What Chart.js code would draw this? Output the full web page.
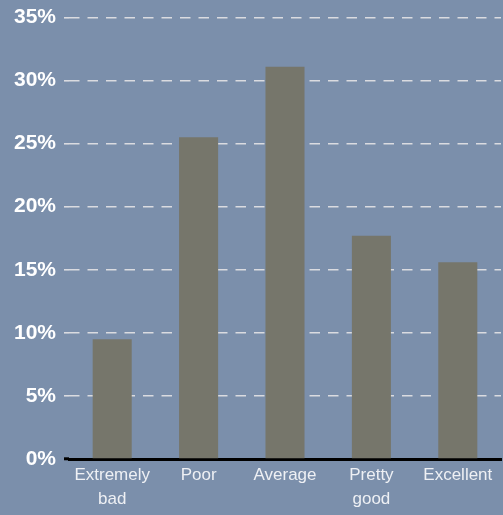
<!DOCTYPE html>
<html>
<head>
<meta charset="utf-8">
<script src="https://cdn.jsdelivr.net/npm/chart.js@4.4.0/dist/chart.umd.min.js"></script>
<style>
  html, body { margin: 0; padding: 0; background: #7b8fab; }
  #wrap { width: 503px; height: 515px; }
</style>
</head>
<body>
<div id="wrap"><canvas id="c" width="503" height="515"></canvas></div>
<script>
const categories = [["Extremely", "bad"], "Poor", "Average", ["Pretty", "good"], "Excellent"];
const shares = [9.5, 25.5, 31.1, 17.7, 15.6];
const yTicks = [0, 5, 10, 15, 20, 25, 30, 35];

new Chart(document.getElementById('c'), {
  type: 'bar',
  data: {
    labels: categories,
    datasets: [{
      data: shares,
      backgroundColor: '#76766b',
      borderWidth: 0,
      categoryPercentage: 1,
      barPercentage: 0.452
    }]
  },
  options: {
    responsive: false,
    animation: false,
    layout: { padding: { left: 0, right: 2, top: 0, bottom: 0 } },
    plugins: { legend: { display: false }, tooltip: { enabled: false } },
    scales: {
      x: {
        grid: { display: false, drawTicks: false },
        border: { display: true, color: '#000000', width: 3 },
        ticks: {
          color: '#eef0f4',
          font: { family: "'Liberation Sans', Arial", size: 17, lineHeight: '24px' },
          padding: 4,
          maxRotation: 0,
          autoSkip: false
        }
      },
      y: {
        min: 0,
        max: 35,
        afterBuildTicks: s => { s.ticks = yTicks.map(v => ({ value: v })); },
        afterFit: s => { s.width = 69; },
        border: { display: false, dash: [10.5, 8] },
        grid: {
          color: ctx => (ctx.tick && ctx.tick.value === 0) ? 'rgba(0,0,0,0)' : '#dadbe0',
          lineWidth: 1.6,
          drawTicks: true,
          tickLength: 5,
          tickColor: ctx => (ctx.tick && ctx.tick.value === 0) ? '#000000' : '#dadbe0',
          tickWidth: ctx => (ctx.tick && ctx.tick.value === 0) ? 3 : 1.6
        },
        ticks: {
          color: '#ffffff',
          font: { family: "'Liberation Sans', Arial", size: 21, weight: 'bold', lineHeight: 0.9 },
          padding: 8,
          callback: v => v + '%'
        }
      }
    }
  }
});
</script>
</body>
</html>
